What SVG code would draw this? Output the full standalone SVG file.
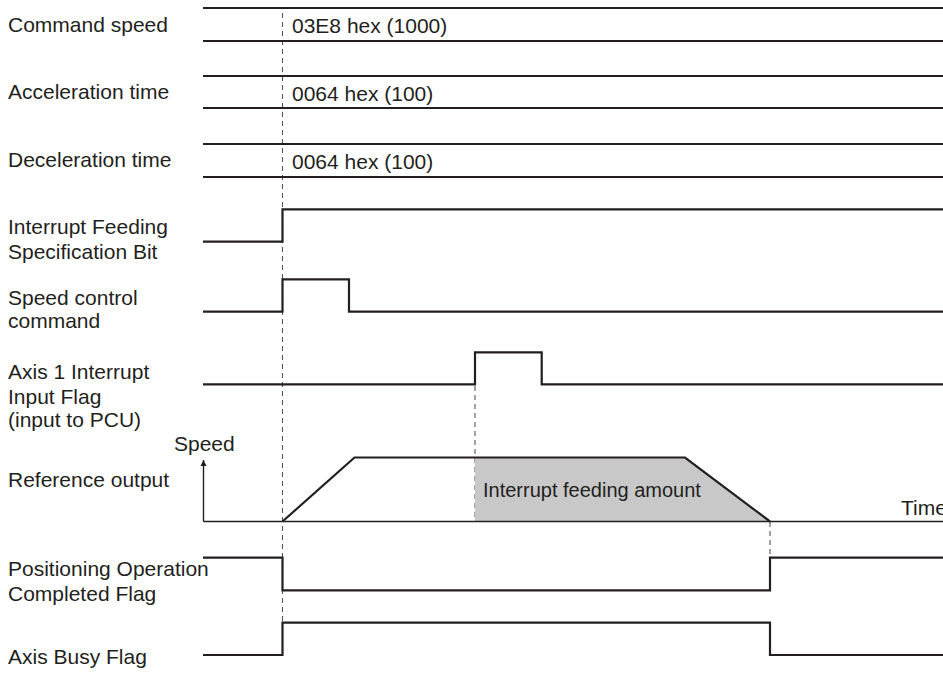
<svg xmlns="http://www.w3.org/2000/svg" width="943" height="673" viewBox="0 0 943 673">
<style>
text{font-family:"Liberation Sans",Arial,sans-serif;font-size:21px;fill:#231f20}
.sig{fill:none;stroke:#231f20;stroke-width:2.2}
.thin{fill:none;stroke:#231f20;stroke-width:1.4}
.dash{fill:none;stroke:#555;stroke-width:1.1;stroke-dasharray:5 4}
</style>
<defs>
<marker id="ah" viewBox="0 0 10 10" refX="10" refY="5" markerWidth="6" markerHeight="8" markerUnits="userSpaceOnUse" orient="auto">
<path d="M0,0 L10,5 L0,10 Z" fill="#231f20"/>
</marker>
</defs>
<rect width="943" height="673" fill="#fff"/>
<g id="labels">
<text x="8" y="32">Command speed</text>
<text x="8" y="99">Acceleration time</text>
<text x="8" y="167">Deceleration time</text>
<text x="8" y="234">Interrupt Feeding</text>
<text x="8" y="259">Specification Bit</text>
<text x="8" y="305">Speed control</text>
<text x="8" y="328">command</text>
<text x="8" y="379">Axis 1 Interrupt</text>
<text x="8" y="404">Input Flag</text>
<text x="8" y="427">(input to PCU)</text>
<text x="8" y="487">Reference output</text>
<text x="8" y="576">Positioning Operation</text>
<text x="8" y="601">Completed Flag</text>
<text x="8" y="664">Axis Busy Flag</text>
</g>
<g id="connectors">
<path class="dash" d="M282.5,13 V622"/>
<path class="dash" d="M475,386 V521"/>
<path class="dash" d="M770,522 V557"/>
</g>
<g id="command-speed">
<path class="sig" d="M203,8 H943 M203,41 H943"/>
<text x="292" y="33">03E8 hex (1000)</text>
</g>
<g id="acceleration-time">
<path class="sig" d="M203,76 H943 M203,108 H943"/>
<text x="292" y="101">0064 hex (100)</text>
</g>
<g id="deceleration-time">
<path class="sig" d="M203,144 H943 M203,177 H943"/>
<text x="292" y="169">0064 hex (100)</text>
</g>
<g id="interrupt-feeding-bit">
<path class="sig" d="M203,241.7 H282.5 V209.3 H943"/>
</g>
<g id="speed-control-command">
<path class="sig" d="M203,311.7 H282.5 V279.3 H349 V311.7 H943"/>
</g>
<g id="interrupt-input-flag">
<path class="sig" d="M203,384.3 H475 V352.3 H541.7 V384.3 H943"/>
</g>
<g id="reference-output">
<polygon points="475,457.5 685,457.5 770,521.5 475,521.5" fill="#c8c8c8"/>
<path class="thin" d="M203.5,521.5 V460" marker-end="url(#ah)"/>
<path class="thin" d="M203.5,521.5 H943"/>
<path class="sig" d="M282.5,521.5 L354.5,457.5 H685 L770,521.5"/>
<text x="174" y="451">Speed</text>
<text x="483" y="497" style="font-size:20px">Interrupt feeding amount</text>
<text x="901" y="515">Time</text>
</g>
<g id="positioning-completed-flag">
<path class="sig" d="M203,557.7 H282.5 V590.3 H770 V557.7 H943"/>
</g>
<g id="axis-busy-flag">
<path class="sig" d="M203,655 H282.5 V622.7 H770 V655 H943"/>
</g>
</svg>
